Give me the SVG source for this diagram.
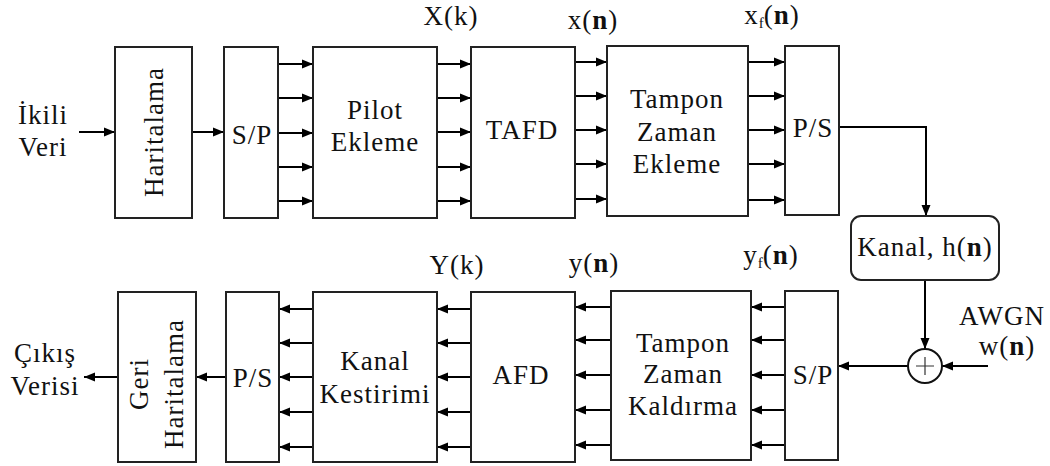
<svg xmlns="http://www.w3.org/2000/svg" width="1050" height="466" viewBox="0 0 1050 466">
<defs>
<marker id="ah" markerUnits="userSpaceOnUse" markerWidth="12" markerHeight="10" refX="11" refY="5" orient="auto">
<path d="M0,0.5 L11,5 L0,9.5 z" fill="#000"/>
</marker>
<style>
.box{fill:#fff;stroke:#222;stroke-width:2}
.ln{fill:none;stroke:#000;stroke-width:2;marker-end:url(#ah)}
.t{font-size:27px;fill:#111;text-anchor:middle;letter-spacing:1px}
.b{font-weight:600}
.sub{font-size:15px;letter-spacing:0}
</style>
</defs>
<rect width="1050" height="466" fill="#fff"/>

<g id="connectors">
<path class="ln" d="M79,132 H115"/>
<path class="ln" d="M192,132 H224"/>
<path class="ln" d="M278,64 H313"/><path class="ln" d="M278,98 H313"/><path class="ln" d="M278,133 H313"/><path class="ln" d="M278,167 H313"/><path class="ln" d="M278,201 H313"/>
<path class="ln" d="M437,64 H471"/><path class="ln" d="M437,98 H471"/><path class="ln" d="M437,132 H471"/><path class="ln" d="M437,167 H471"/><path class="ln" d="M437,201 H471"/>
<path class="ln" d="M575,62 H607"/><path class="ln" d="M575,96 H607"/><path class="ln" d="M575,130 H607"/><path class="ln" d="M575,164 H607"/><path class="ln" d="M575,199 H607"/>
<path class="ln" d="M748,62 H785"/><path class="ln" d="M748,96 H785"/><path class="ln" d="M748,130 H785"/><path class="ln" d="M748,164 H785"/><path class="ln" d="M748,200 H785"/>
<path class="ln" d="M839,127 H926 V216"/>
<path class="ln" d="M925,280 V349"/>
<path class="ln" d="M988,366 H942"/>
<path class="ln" d="M908,366 H838"/>
<path class="ln" d="M785,307 H751"/><path class="ln" d="M785,340 H751"/><path class="ln" d="M785,375 H751"/><path class="ln" d="M785,410 H751"/><path class="ln" d="M785,445 H751"/>
<path class="ln" d="M611,307 H575"/><path class="ln" d="M611,340 H575"/><path class="ln" d="M611,375 H575"/><path class="ln" d="M611,410 H575"/><path class="ln" d="M611,445 H575"/>
<path class="ln" d="M471,309 H437"/><path class="ln" d="M471,343 H437"/><path class="ln" d="M471,377 H437"/><path class="ln" d="M471,412 H437"/><path class="ln" d="M471,447 H437"/>
<path class="ln" d="M313,309 H279"/><path class="ln" d="M313,343 H279"/><path class="ln" d="M313,377 H279"/><path class="ln" d="M313,412 H279"/><path class="ln" d="M313,447 H279"/>
<path class="ln" d="M226,377 H196"/>
<path class="ln" d="M118,377 H84"/>
</g>

<g font-family="Liberation Serif, Tinos, Times New Roman, Noto Serif, DejaVu Serif, serif">
<g id="input-label">
<text class="t" x="43" y="124">İkili</text>
<text class="t" x="43" y="156">Veri</text>
</g>

<g id="haritalama">
<rect class="box" x="115" y="47" width="77" height="171"/>
<text class="t" transform="translate(163,132) rotate(-90)">Haritalama</text>
</g>

<g id="sp-top">
<rect class="box" x="224" y="47" width="54" height="171"/>
<text class="t" x="252" y="144">S/P</text>
</g>

<g id="pilot">
<rect class="box" x="313" y="47" width="124" height="171"/>
<text class="t" x="375" y="119">Pilot</text>
<text class="t" x="375" y="151">Ekleme</text>
</g>

<g id="tafd">
<rect class="box" x="471" y="47" width="104" height="171"/>
<text class="t" x="522" y="139">TAFD</text>
</g>

<g id="tampon-ekleme">
<rect class="box" x="607" y="46" width="141" height="170"/>
<text class="t" x="677" y="108">Tampon</text>
<text class="t" x="677" y="141">Zaman</text>
<text class="t" x="677" y="173">Ekleme</text>
</g>

<g id="ps-top">
<rect class="box" x="785" y="46" width="54" height="169"/>
<text class="t" x="813" y="137">P/S</text>
</g>

<g id="labels-top">
<text class="t" x="451" y="25">X(k)</text>
<text class="t" x="593" y="29">x(<tspan class="b">n</tspan>)</text>
<text class="t" x="772" y="24">x<tspan class="sub" dy="4">f</tspan><tspan dy="-4">(</tspan><tspan class="b">n</tspan>)</text>
</g>

<g id="kanal">
<rect class="box" x="851" y="216" width="148" height="64" rx="10" ry="10"/>
<text class="t" x="925" y="256">Kanal, h(<tspan class="b">n</tspan>)</text>
</g>

<g id="adder">
<circle cx="925" cy="366" r="17" fill="#fff" stroke="#111" stroke-width="2"/>
<path d="M916,366 H934 M925,357 V375" stroke="#333" stroke-width="1.2" fill="none"/>
</g>

<g id="awgn-label">
<text class="t" x="1002" y="325">AWGN</text>
<text class="t" x="1007" y="355">w(<tspan class="b">n</tspan>)</text>
</g>

<g id="sp-bottom">
<rect class="box" x="785" y="291" width="53" height="169"/>
<text class="t" x="813" y="384">S/P</text>
</g>

<g id="tampon-kaldirma">
<rect class="box" x="611" y="291" width="140" height="169"/>
<text class="t" x="683" y="352">Tampon</text>
<text class="t" x="683" y="383">Zaman</text>
<text class="t" x="683" y="415">Kaldırma</text>
</g>

<g id="afd">
<rect class="box" x="471" y="292" width="104" height="170"/>
<text class="t" x="521" y="384">AFD</text>
</g>

<g id="kanal-kestirimi">
<rect class="box" x="313" y="292" width="124" height="170"/>
<text class="t" x="375" y="370">Kanal</text>
<text class="t" x="375" y="403">Kestirimi</text>
</g>

<g id="ps-bottom">
<rect class="box" x="226" y="292" width="53" height="170"/>
<text class="t" x="253" y="387">P/S</text>
</g>

<g id="geri-haritalama">
<rect class="box" x="118" y="292" width="78" height="170"/>
<text class="t" transform="translate(148,384) rotate(-90)">Geri</text>
<text class="t" transform="translate(183,384) rotate(-90)">Haritalama</text>
</g>

<g id="labels-bottom">
<text class="t" x="457" y="274">Y(k)</text>
<text class="t" x="594" y="272">y(<tspan class="b">n</tspan>)</text>
<text class="t" x="771" y="264">y<tspan class="sub" dy="4">f</tspan><tspan dy="-4">(</tspan><tspan class="b">n</tspan>)</text>
</g>

<g id="output-label">
<text class="t" x="45" y="362">Çıkış</text>
<text class="t" x="45" y="395">Verisi</text>
</g>
</g>
</svg>
